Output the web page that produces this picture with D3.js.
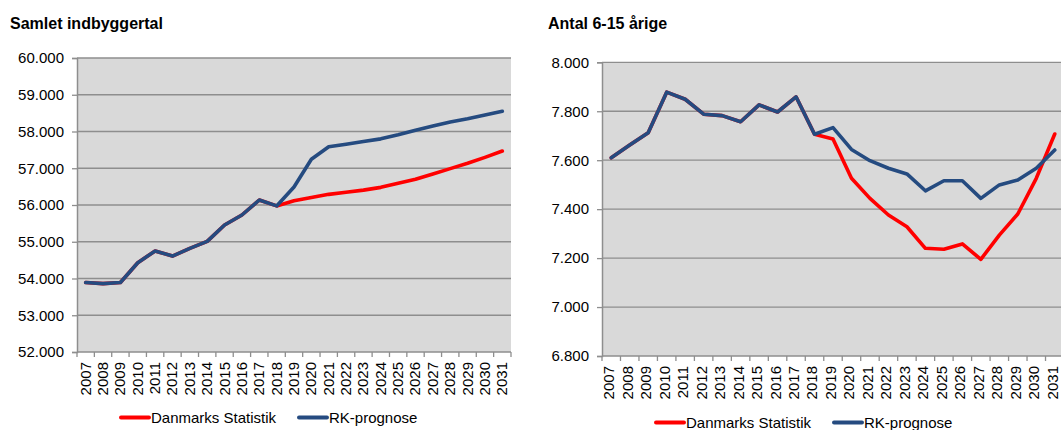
<!DOCTYPE html>
<html>
<head>
<meta charset="utf-8">
<script src="https://cdn.jsdelivr.net/npm/d3@7"></script>
<style>
  html, body { margin: 0; padding: 0; background: #fff; }
  svg { display: block; }
  text { font-family: "Liberation Sans", Arial, sans-serif; fill: #000; }
</style>
</head>
<body>
<svg id="chart" width="1061" height="430"></svg>
<script>
// ---- Data ----
const years = [2007,2008,2009,2010,2011,2012,2013,2014,2015,2016,2017,2018,2019,
               2020,2021,2022,2023,2024,2025,2026,2027,2028,2029,2030,2031];

// Samlet indbyggertal
const totalRK = [53890,53860,53890,54430,54750,54610,54820,55010,55456,55728,56136,55975,56490,
                 57243,57585,57655,57730,57800,57910,58035,58150,58260,58348,58449,58550];
const totalDS = [53890,53860,53890,54430,54750,54610,54820,55010,55456,55728,56136,55975,56115,
                 56205,56290,56345,56405,56480,56590,56700,56845,56990,57135,57297,57469];
const totalTicks = [52000,53000,54000,55000,56000,57000,58000,59000,60000];

// Antal 6-15 årige
const kidsRK = [7610,7662,7712,7878,7849,7788,7782,7757,7826,7797,7859,7706,7733,
                7644,7598,7567,7544,7475,7516,7516,7444,7499,7519,7567,7642];
const kidsDS = [7610,7662,7712,7878,7849,7788,7782,7757,7826,7797,7859,7706,7687,
                7526,7444,7376,7328,7240,7236,7258,7195,7294,7380,7526,7707];
const kidsTicks = [6800,7000,7200,7400,7600,7800,8000];

const seriesNames = ["Danmarks Statistik", "RK-prognose"];
const colors = { ds: "#FF0000", rk: "#254B80" };

const fmt = v => d3.format(",.0f")(v).replace(/,/g, ".");

const svg = d3.select("#chart");

function drawChart(cfg) {
  const g = svg.append("g");
  const x = d3.scaleBand().domain(years).range([cfg.x0, cfg.x1]);
  const y = d3.scaleLinear().domain(cfg.domain).range([cfg.y1, cfg.y0]);

  // title
  g.append("text").attr("x", cfg.titleX).attr("y", 29)
    .attr("font-size", 16).attr("font-weight", "bold").text(cfg.title);

  // plot background
  g.append("rect").attr("x", cfg.x0).attr("y", cfg.y0)
    .attr("width", cfg.x1 - cfg.x0).attr("height", cfg.y1 - cfg.y0)
    .attr("fill", "#D9D9D9");

  // gridlines
  g.append("g").selectAll("line").data(cfg.ticks).join("line")
    .attr("x1", cfg.x0).attr("x2", cfg.x1)
    .attr("y1", d => y(d)).attr("y2", d => y(d))
    .attr("stroke", "#8E8E8E").attr("stroke-width", 1.3);

  // y axis
  const yAxis = g.append("g").attr("transform", `translate(${cfg.x0},0)`)
    .call(d3.axisLeft(y).tickValues(cfg.ticks).tickFormat(fmt).tickSize(5).tickPadding(8));
  yAxis.select(".domain").attr("stroke", "#8E8E8E").attr("stroke-width", 1.5);
  yAxis.selectAll(".tick line").attr("stroke", "#8E8E8E").attr("stroke-width", 1.3);
  yAxis.selectAll(".tick text").attr("font-size", 15).attr("fill", "#000")
    .attr("font-family", "Liberation Sans, Arial, sans-serif");

  // x axis: ticks on category boundaries
  const xg = g.append("g");
  const bounds = years.map(d => x(d)).concat([cfg.x1]);
  xg.selectAll("line").data(bounds).join("line")
    .attr("x1", d => d).attr("x2", d => d)
    .attr("y1", cfg.y1).attr("y2", cfg.y1 + 5)
    .attr("stroke", "#8E8E8E").attr("stroke-width", 1.3);
  xg.selectAll("text").data(years).join("text")
    .attr("transform", d => `translate(${x(d) + x.bandwidth() / 2 + cfg.labelShift},${cfg.y1 + 10}) rotate(-90)`)
    .attr("text-anchor", "end").attr("dy", "0.33em")
    .attr("font-size", 15).text(d => d);

  // lines
  const line = d3.line()
    .defined(d => d.v != null)
    .x(d => x(d.year) + x.bandwidth() / 2)
    .y(d => y(d.v));
  const mk = arr => years.map((yr, i) => ({ year: yr, v: arr[i] }));

  g.append("path").datum(mk(cfg.ds)).attr("d", line)
    .attr("fill", "none").attr("stroke", colors.ds).attr("stroke-width", 3.6)
    .attr("stroke-linejoin", "round").attr("stroke-linecap", "round");
  g.append("path").datum(mk(cfg.rk)).attr("d", line)
    .attr("fill", "none").attr("stroke", colors.rk).attr("stroke-width", 3.6)
    .attr("stroke-linejoin", "round").attr("stroke-linecap", "round");

  // legend
  const lg = g.append("g").attr("transform", `translate(${cfg.legX},${cfg.legY})`);
  const items = [
    { name: seriesNames[0], color: colors.ds, dx: 0 },
    { name: seriesNames[1], color: colors.rk, dx: cfg.legGap }
  ];
  items.forEach(it => {
    lg.append("line").attr("x1", it.dx).attr("x2", it.dx + 28)
      .attr("y1", 0).attr("y2", 0)
      .attr("stroke", it.color).attr("stroke-width", 4).attr("stroke-linecap", "round");
    lg.append("text").attr("x", it.dx + 30).attr("y", 5.5)
      .attr("font-size", 15).text(it.name);
  });
}

drawChart({
  title: "Samlet indbyggertal", titleX: 10,
  x0: 77, x1: 511, y0: 58, y1: 352,
  domain: [52000, 60000], ticks: totalTicks,
  ds: totalDS, rk: totalRK, labelShift: 0,
  legX: 121, legY: 417.5, legGap: 178
});

drawChart({
  title: "Antal 6-15 årige", titleX: 548,
  x0: 602, x1: 1064, y0: 62.3, y1: 356,
  domain: [6800, 8000], ticks: kidsTicks,
  ds: kidsDS, rk: kidsRK, labelShift: -2,
  legX: 656, legY: 422.5, legGap: 178
});
</script>
</body>
</html>
